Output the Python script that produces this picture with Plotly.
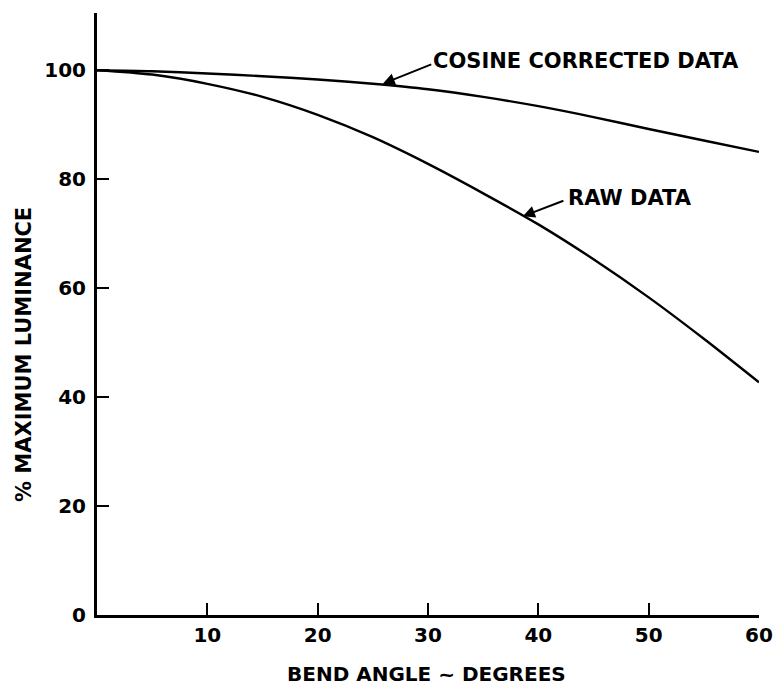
import plotly.graph_objects as go

angle = [0, 5, 10, 15, 20, 25, 30, 35, 40, 45, 50, 55, 60]
raw_data = [100, 99.2, 97.5, 95.1, 91.8, 87.7, 82.8, 77.4, 71.7, 65.3, 58.3, 50.7, 42.7]
cosine_corrected = [100, 99.8, 99.4, 98.9, 98.3, 97.5, 96.5, 95.1, 93.4, 91.4, 89.2, 87.1, 85.0]

x_ticks = [10, 20, 30, 40, 50, 60]
y_ticks = [0, 20, 40, 60, 80, 100]

FONT = "DejaVu Sans"

fig = go.Figure()
fig.add_trace(go.Scatter(x=angle, y=cosine_corrected, mode="lines",
                         line=dict(color="black", width=2.4, shape="spline", smoothing=0.8),
                         name="COSINE CORRECTED DATA", showlegend=False, hoverinfo="skip"))
fig.add_trace(go.Scatter(x=angle, y=raw_data, mode="lines",
                         line=dict(color="black", width=2.4, shape="spline", smoothing=0.8),
                         name="RAW DATA", showlegend=False, hoverinfo="skip"))

annots = [
    # arrows
    dict(x=25.9, y=97.5, ax=50, ay=-20, text="", showarrow=True, arrowhead=2, arrowsize=1.2, arrowwidth=2, arrowcolor="black"),
    dict(x=38.6, y=73.2, ax=42, ay=-16, text="", showarrow=True, arrowhead=2, arrowsize=1.2, arrowwidth=2, arrowcolor="black"),
    # labels
    dict(x=30.3, y=101.6, text="<b>COSINE CORRECTED DATA</b>", showarrow=False, xanchor="left", yanchor="middle",
         font=dict(family=FONT, size=21, color="black")),
    dict(x=42.5, y=76.5, text="<b>RAW DATA</b>", showarrow=False, xanchor="left", yanchor="middle",
         font=dict(family=FONT, size=21, color="black")),
]
for a in annots:
    a["xref"] = "x"
    a["yref"] = "y"
    if a.get("showarrow"):
        a["axref"] = "pixel"
        a["ayref"] = "pixel"
    fig.add_annotation(**a)

# axis titles placed as paper annotations
W, H = 776, 687
ML, MR, MT, MB = 97, 17, 13, 72
pw, ph = W - ML - MR, H - MT - MB
fig.add_annotation(xref="paper", yref="paper", x=(426 - ML) / pw, y=(H - MB - 674) / ph,
                   text="<b>BEND ANGLE ~ DEGREES</b>", showarrow=False, xanchor="center", yanchor="middle",
                   font=dict(family=FONT, size=20, color="black"))
fig.add_annotation(xref="paper", yref="paper", x=(24 - ML) / pw, y=(H - MB - 355) / ph,
                   text="<b>% MAXIMUM LUMINANCE</b>", showarrow=False, textangle=-90,
                   xanchor="center", yanchor="middle", font=dict(family=FONT, size=21, color="black"))

fig.update_layout(
    width=W, height=H,
    margin=dict(l=ML, r=MR, t=MT, b=MB, autoexpand=False),
    paper_bgcolor="white", plot_bgcolor="white",
    font=dict(family=FONT, color="black"),
    showlegend=False,
    hovermode=False,
)
fig.update_xaxes(range=[0, 60], tickvals=x_ticks, ticktext=[f"<b>{v}</b>" for v in x_ticks],
                 ticks="inside", ticklen=12, tickwidth=2, tickcolor="black",
                 showline=True, linecolor="black", linewidth=3, showgrid=False, zeroline=False,
                 tickfont=dict(family=FONT, size=20, color="black"))
fig.update_yaxes(range=[0, 110.5], tickvals=y_ticks, ticktext=[f"<b>{v}</b>" for v in y_ticks],
                 ticks="inside", ticklen=12, tickwidth=2, tickcolor="black",
                 showline=True, linecolor="black", linewidth=3, showgrid=False, zeroline=False,
                 ticklabelstandoff=4,
                 tickfont=dict(family=FONT, size=20, color="black"))

fig.write_html("out.html", config={"displayModeBar": False, "staticPlot": True},
               post_script="document.body.style.margin='0';document.body.style.padding='0';")
